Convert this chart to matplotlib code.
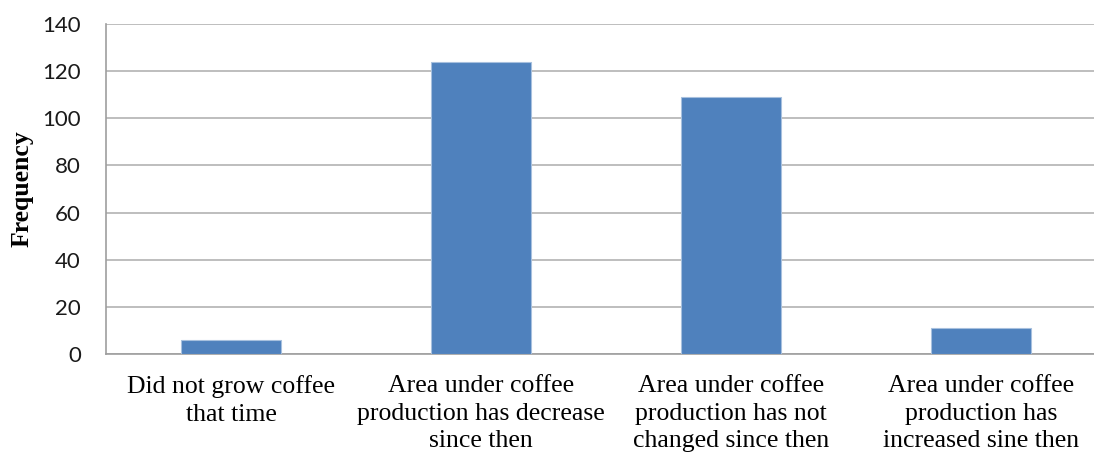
import matplotlib
matplotlib.use("Agg")
import matplotlib.pyplot as plt

categories = [
    "Did not grow coffee\nthat time",
    "Area under coffee\nproduction has decrease\nsince then",
    "Area under coffee\nproduction has not\nchanged since then",
    "Area under coffee\nproduction has\nincreased sine then",
]
frequency = [6, 124, 109, 11]
y_ticks = [0, 20, 40, 60, 80, 100, 120, 140]

fig = plt.figure(figsize=(10.94, 4.55), dpi=100)
ax = fig.add_axes([106 / 1094, 101.3 / 455, 1000 / 1094, 329.4 / 455])

x = list(range(len(categories)))
ax.bar(x, frequency, width=0.4, color="#4F81BD", edgecolor="#A7C0DE",
       linewidth=0.8, zorder=3)

ax.set_xlim(-0.5, len(categories) - 0.5)
ax.set_ylim(0, 140)
ax.set_yticks(y_ticks)
ax.set_yticklabels([str(t) for t in y_ticks], family=["Lato", "DejaVu Sans"],
                   fontsize=16, color="#1A1A1A")
ax.set_xticks(x)
ax.set_xticklabels(categories, family=["Liberation Serif"], fontsize=18.5,
                   color="black", linespacing=1.33)
ax.tick_params(axis="y", length=0, pad=18)
ax.tick_params(axis="x", length=0, pad=15.5)

ax.yaxis.grid(True, color="#B3B3B3", linewidth=1.2, zorder=0)
ax.set_axisbelow(True)
for side in ("top", "right"):
    ax.spines[side].set_visible(False)
for side in ("left", "bottom"):
    ax.spines[side].set_color("#9E9E9E")
    ax.spines[side].set_linewidth(1.2)

fig.text(22 / 1094, 1 - 189 / 455, "Frequency", rotation=90, ha="center",
         va="center", family=["Liberation Serif"], fontweight="bold",
         fontsize=18.5)

fig.savefig("out.png", dpi=100)
